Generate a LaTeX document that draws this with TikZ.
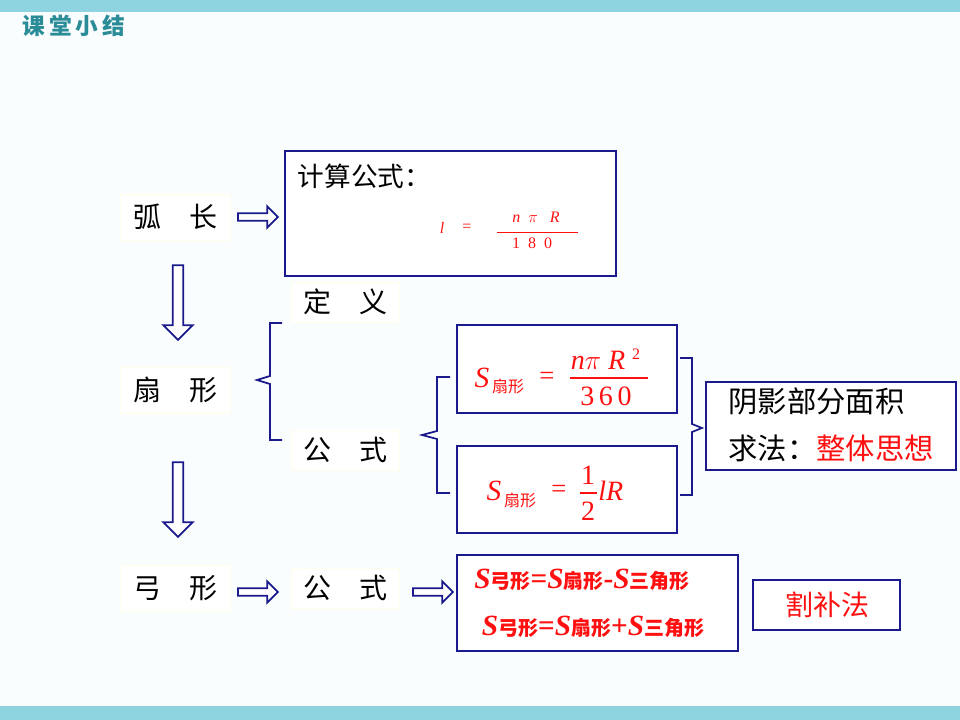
\documentclass[tikz,border=0pt]{standalone}
\usepackage{fontspec}
\setmainfont{Liberation Serif}
\newfontfamily\cjk{Noto Sans CJK SC}
\usetikzlibrary{shapes.arrows}
\definecolor{navy}{HTML}{1A1A8C}
\definecolor{teal1}{HTML}{8DD4E0}
\definecolor{teal2}{HTML}{2A8C96}
\definecolor{fred}{HTML}{FF1010}
\begin{document}
\begin{tikzpicture}[x=0.75pt,y=-0.75pt,
  lbl/.style={draw=yellow!8,fill=white,minimum width=110pt*0.75,minimum height=46pt*0.75,font=\cjk\fontsize{21}{24}\selectfont,inner sep=0pt},
  bx/.style={draw=navy,line width=2.2pt,fill=white},
  harrow/.style={single arrow,draw=navy,fill=white,line width=1.3pt,minimum height=30pt,minimum width=16pt,single arrow head extend=3pt,inner sep=1pt},
  brc/.style={draw=navy,line width=1.3pt},
  rt/.style={text=fred,inner sep=0pt}]
\useasboundingbox (0,0) rectangle (960,720);
\fill[white!96!teal1] (0,0) rectangle (960,720);
\fill[teal1] (0,0) rectangle (960,12);
\fill[teal1] (0,706) rectangle (960,720);
\node[anchor=west,text=teal2,font=\cjk\bfseries\fontsize{17}{20}\selectfont] (title) at (18,26) {课\,堂\,小\,结};
% row 1
\node[lbl] (hc) at (175,217) {弧\quad 长};
\node[harrow] (a1) at (256,217) {};
\draw[bx] (285,151) rectangle (616,276);
\node[anchor=west,font=\cjk\fontsize{20}{22}\selectfont] (js) at (293,176) {计算公式：};
\node[rt,font=\itshape\fontsize{12}{13}\selectfont] (fl) at (442,228) {l};
\node[rt,font=\fontsize{12}{13}\selectfont] (fe) at (467,228) {=};
\node[rt,font=\itshape\fontsize{12}{13}\selectfont] (fn) at (536,217) {n\ \ $\pi$\ \ \ R};
\node[rt,font=\fontsize{12}{13}\selectfont] (fd) at (532,243) {1\ \ 8\ \ 0};
\draw[fred,line width=0.6pt] (497,232) -- (578,232);
\node[harrow,rotate=-90,minimum height=56pt,minimum width=22pt] (d1) at (178,300) {};
% row 2
\node[lbl] (sx) at (175,390) {扇\quad 形};
\node[lbl,minimum width=108pt*0.75,minimum height=40pt*0.75] (dy) at (345,302) {定\quad 义};
\node[lbl,minimum width=108pt*0.75,minimum height=40pt*0.75] (gs) at (345,450) {公\quad 式};
\draw[brc] (282,323) -- (270,323) -- (270,376) -- (257,380) -- (270,384) -- (270,440) -- (282,440);
\draw[brc] (450,377) -- (437,377) -- (437,431) -- (422,435) -- (437,439) -- (437,493) -- (450,493);
\draw[brc] (680,358) -- (692,358) -- (692,424) -- (702,428) -- (692,432) -- (692,495) -- (680,495);
\draw[bx] (457,325) rectangle (677,413);
\draw[bx] (457,446) rectangle (677,533);
\node[rt,font=\itshape\fontsize{22}{24}\selectfont] (s1) at (482,378) {S};
\node[rt,font=\cjk\fontsize{12}{12}\selectfont] (s1b) at (508,386) {扇形};
\node[rt,font=\fontsize{20}{22}\selectfont] (s1e) at (547,378) {=};
\node[rt,font=\itshape\fontsize{21}{24}\selectfont] (s1n) at (598,360) {n$\pi$ R};
\node[rt,font=\fontsize{12}{12}\selectfont] (s1s) at (636,354) {2};
\node[rt,font=\fontsize{21}{24}\selectfont] (s1d) at (606,396) {3\,6\,0};
\draw[fred,line width=0.8pt] (570,378) -- (648,378);
\node[rt,font=\itshape\fontsize{22}{24}\selectfont] (s2) at (494,491) {S};
\node[rt,font=\cjk\fontsize{12}{12}\selectfont] (s2b) at (520,500) {扇形};
\node[rt,font=\fontsize{20}{22}\selectfont] (s2e) at (559,491) {=};
\node[rt,font=\fontsize{21}{24}\selectfont] (s2n) at (588,475) {1};
\node[rt,font=\fontsize{21}{24}\selectfont] (s2d) at (588,511) {2};
\draw[fred,line width=0.8pt] (580,493) -- (597,493);
\node[rt,font=\itshape\fontsize{21}{24}\selectfont,anchor=west] (s2r) at (598,491) {lR};
\draw[bx] (706,382) rectangle (956,470);
\node[align=left,font=\cjk\fontsize{22}{35}\selectfont] (yy) at (831,425) {阴影部分面积\\求法：\textcolor{fred}{整体思想}};
\node[harrow,rotate=-90,minimum height=56pt,minimum width=22pt] (d2) at (178,497) {};
% row 3
\node[lbl] (gx) at (175,588) {弓\quad 形};
\node[harrow] (a2) at (256,592) {};
\node[lbl,minimum width=108pt*0.75,minimum height=40pt*0.75] (gs2) at (345,588) {公\quad 式};
\node[harrow] (a3) at (431,592) {};
\draw[bx] (457,555) rectangle (738,651);
\node[text=fred,font=\bfseries\fontsize{22}{24}\selectfont] (g1) at (582,580) {\textit{S}{\cjk\bfseries\fontsize{15}{15}\selectfont 弓形}=\textit{S}{\cjk\bfseries\fontsize{15}{15}\selectfont 扇形}-\textit{S}{\cjk\bfseries\fontsize{15}{15}\selectfont 三角形}};
\node[text=fred,font=\bfseries\fontsize{22}{24}\selectfont] (g2) at (593,627) {\textit{S}{\cjk\bfseries\fontsize{15}{15}\selectfont 弓形}=\textit{S}{\cjk\bfseries\fontsize{15}{15}\selectfont 扇形}+\textit{S}{\cjk\bfseries\fontsize{15}{15}\selectfont 三角形}};
\draw[bx,line width=1.8pt] (753,580) rectangle (900,630);
\node[text=fred,font=\cjk\fontsize{21}{24}\selectfont] (gb) at (827,605) {割补法};
\end{tikzpicture}
\end{document}
